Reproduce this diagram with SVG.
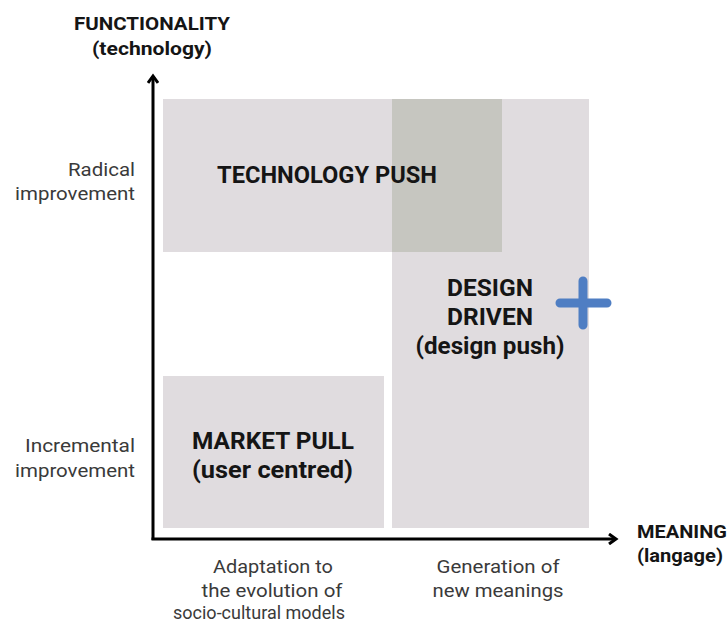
<svg xmlns="http://www.w3.org/2000/svg" width="728" height="625" viewBox="0 0 728 625">
<defs>
<style>
.b{font-family:Roboto,"Liberation Sans",sans-serif;font-weight:700;fill:#151515;}
.r{font-family:Roboto,"Liberation Sans",sans-serif;font-weight:400;fill:#3a3a3a;font-size:19px;}
.box{fill:#e0dcdf;}
.axis{stroke:#000;stroke-width:3;fill:none;}
</style>
<marker id="ah" markerWidth="12" markerHeight="12" refX="9" refY="6" orient="auto" markerUnits="userSpaceOnUse">
<path d="M2,1 L9,6 L2,11" fill="none" stroke="#000" stroke-width="3" stroke-linejoin="miter"/>
</marker>
</defs>
<rect width="728" height="625" fill="#fff"/>
<g id="technology-push">
<rect class="box" x="163" y="99" width="339" height="153"/>
</g>
<g id="design-driven">
<rect class="box" x="392" y="99" width="197" height="429"/>
<rect x="392" y="99" width="110" height="153" fill="#c6c6c0"/>
<text class="b" x="490" y="296" font-size="24" text-anchor="middle" textLength="86" lengthAdjust="spacingAndGlyphs">DESIGN</text>
<text class="b" x="490" y="325" font-size="24" text-anchor="middle" textLength="86" lengthAdjust="spacingAndGlyphs">DRIVEN</text>
<text class="b" x="490" y="354" font-size="24" text-anchor="middle" textLength="149" lengthAdjust="spacingAndGlyphs">(design push)</text>
<path d="M560,303 H607 M583,281 V325" stroke="#4f7ec3" stroke-width="9" stroke-linecap="round" fill="none"/>
</g>
<g id="technology-push-label">
<text class="b" x="217" y="183" font-size="24" textLength="220" lengthAdjust="spacingAndGlyphs">TECHNOLOGY PUSH</text>
</g>
<g id="market-pull">
<rect class="box" x="163" y="376" width="221" height="152"/>
<text class="b" x="192" y="449" font-size="23" textLength="162" lengthAdjust="spacingAndGlyphs">MARKET PULL</text>
<text class="b" x="192" y="478" font-size="23" textLength="161" lengthAdjust="spacingAndGlyphs">(user centred)</text>
</g>
<g id="connectors">
<path class="axis" d="M153,540 V76" marker-end="url(#ah)"/>
<path class="axis" d="M151.5,539 H616" marker-end="url(#ah)"/>
</g>
<g id="y-axis-label">
<text class="b" x="152" y="30" font-size="19" text-anchor="middle" textLength="156" lengthAdjust="spacingAndGlyphs">FUNCTIONALITY</text>
<text class="b" x="152" y="55" font-size="19" text-anchor="middle" textLength="120" lengthAdjust="spacingAndGlyphs">(technology)</text>
</g>
<g id="x-axis-label">
<text class="b" x="637" y="538" font-size="19" textLength="90" lengthAdjust="spacingAndGlyphs">MEANING</text>
<text class="b" x="637" y="562" font-size="19" textLength="86" lengthAdjust="spacingAndGlyphs">(langage)</text>
</g>
<g id="y-ticks">
<text class="r" x="135" y="176" text-anchor="end" textLength="67" lengthAdjust="spacingAndGlyphs">Radical</text>
<text class="r" x="135" y="200" text-anchor="end" textLength="120" lengthAdjust="spacingAndGlyphs">improvement</text>
<text class="r" x="135" y="452" text-anchor="end" textLength="110" lengthAdjust="spacingAndGlyphs">Incremental</text>
<text class="r" x="135" y="477" text-anchor="end" textLength="120" lengthAdjust="spacingAndGlyphs">improvement</text>
</g>
<g id="x-ticks">
<text class="r" x="273" y="573" text-anchor="middle" textLength="120" lengthAdjust="spacingAndGlyphs">Adaptation to</text>
<text class="r" x="272" y="597" text-anchor="middle" textLength="141" lengthAdjust="spacingAndGlyphs">the evolution of</text>
<text class="r" x="259" y="619" text-anchor="middle" textLength="172" lengthAdjust="spacingAndGlyphs">socio-cultural models</text>
<text class="r" x="498" y="573" text-anchor="middle" textLength="123" lengthAdjust="spacingAndGlyphs">Generation of</text>
<text class="r" x="498" y="597" text-anchor="middle" textLength="131" lengthAdjust="spacingAndGlyphs">new meanings</text>
</g>
</svg>
